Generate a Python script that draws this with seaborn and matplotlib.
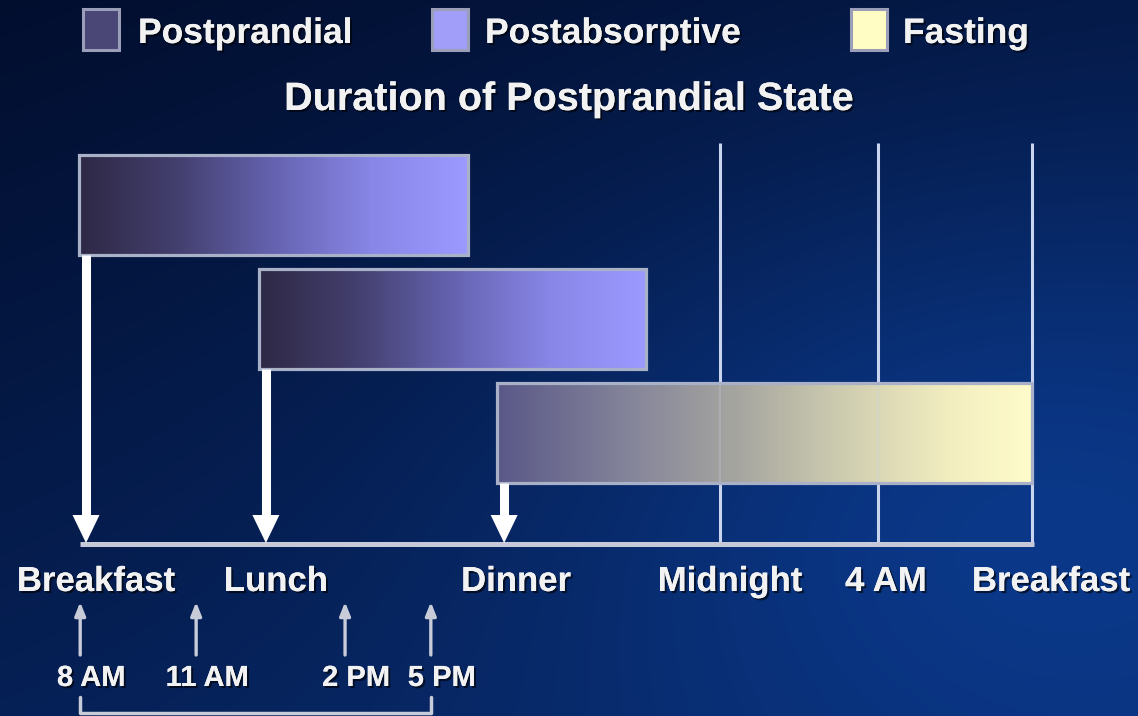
import numpy as np
import pandas as pd
import matplotlib
matplotlib.use("Agg")
import matplotlib.pyplot as plt
import seaborn as sns
from matplotlib.colors import LinearSegmentedColormap
from matplotlib.patches import Rectangle
import matplotlib.patheffects as pe

# ---------------- data (hours after the first breakfast) ----------------
meals = ["Breakfast", "Lunch", "Dinner"]
meal_start = [0.0, 4.53, 10.53]
state_end = [9.80, 14.28, 24.0]
guide_labels = ["Midnight", "4 AM", "Breakfast"]
guide_hours = [16.14, 20.12, 24.0]
clock_labels = ["8 AM", "11 AM", "2 PM", "5 PM"]
clock_hours = [0.03, 2.95, 6.70, 8.86]
legend_labels = ["Postprandial", "Postabsorptive", "Fasting"]
legend_colors = ["#4a4676", "#a09ef8", "#fffcc4"]
title = "Duration of Postprandial State"

# ---------------- layout helpers (pixel -> data) ----------------
W, H = 1138, 716
X0, SX = 79.0, 39.71
Y0, SY = 205.0, 114.0
def hx(px): return (px - X0) / SX
def ry(py): return (py - Y0) / SY
def dxp(p): return p / SX
def dyp(p): return p / SY

sns.set_theme(style="white")
plt.rcParams["font.family"] = ["Liberation Sans", "DejaVu Sans"]

fig = plt.figure(figsize=(W / 100, H / 100), dpi=100)
ax = fig.add_axes([0, 0, 1, 1])

# ---------------- background ----------------
yy, xx = np.mgrid[0:H, 0:W]
u = xx / W
v = yy / H
w = 0.22 * u + 0.38 * v + 0.40 * np.exp(-(((xx - 1000) / 480) ** 2 + ((yy - 480) / 320) ** 2))
w = np.clip(w, 0, 1)
dark = np.array([2, 14, 46]) / 255
bright = np.array([12, 62, 150]) / 255
bg = dark + (bright - dark) * w[..., None]
ax.imshow(bg, extent=[hx(0), hx(W), ry(H), ry(0)], aspect="auto", origin="upper", zorder=0)

# ---------------- bars ----------------
df = pd.DataFrame({
    "meal": meals,
    "start": meal_start,
    "duration": np.array(state_end) - np.array(meal_start),
})
bar_h = 100 / SY
sns.barplot(data=df, y="meal", x="duration", orient="h", left=df["start"].to_numpy(),
            width=bar_h, errorbar=None, color="#888888", ax=ax)

cm_post = LinearSegmentedColormap.from_list(
    "post", [(0, "#2e2945"), (0.25, "#433f6e"), (0.5, "#6563b0"), (0.75, "#8886e6"), (1.0, "#9c9aff")])
cm_fast = LinearSegmentedColormap.from_list(
    "fast", [(0, "#5a5888"), (0.25, "#85859a"), (0.45, "#a6a6a0"), (0.65, "#cfcdb0"),
             (0.85, "#f2eec0"), (1.0, "#fffccb")])
grad = np.linspace(0, 1, 256)[None, :]
bars = list(ax.patches)
for i, p in enumerate(bars):
    bx0, by0 = p.get_x(), p.get_y()
    bw, bh = p.get_width(), p.get_height()
    cmap = cm_fast if i == 2 else cm_post
    ax.imshow(grad, cmap=cmap, extent=[bx0, bx0 + bw, by0 + bh, by0], aspect="auto", zorder=2)
    p.set_facecolor("none")
    p.set_edgecolor("#a9b1c8")
    p.set_linewidth(2.3)
    p.set_zorder(3)

# ---------------- guide lines ----------------
ax.vlines(guide_hours, ry(143), ry(543), colors="#c9d5ee", lw=2.2, zorder=1)
ax.vlines(guide_hours[:2], ry(383), ry(483), colors="#c9d5ee", lw=1.5, alpha=0.25, zorder=2.5)

# ---------------- time axis ----------------
ax.hlines(ry(544), hx(80), hx(1034), colors="#c5c9d8", lw=3.6, zorder=4)

for i, s in enumerate(meal_start):
    x = s + dxp(7)
    top = i + bar_h / 2
    ax.plot([x, x], [top, ry(517)], color="white", lw=6.5, solid_capstyle="butt", zorder=4)
    ax.fill([x - dxp(13.5), x + dxp(13.5), x], [ry(515), ry(515), ry(543)],
            color="white", lw=0, zorder=4)

shadow = [pe.withSimplePatchShadow(offset=(1.5, -1.5), shadow_rgbFace="black", alpha=0.6), pe.Normal()]

tick_hours = meal_start + guide_hours
tick_names = meals + guide_labels
tick_off = [17, 17, 19, 10, 8, 19]
for h, name, off in zip(tick_hours, tick_names, tick_off):
    ax.text(h + dxp(off), ry(591), name, ha="center", va="baseline", fontsize=25,
            fontweight="bold", color="#f2f2f2", zorder=5, path_effects=shadow)

# ---------------- clock arrows ----------------
for h, name in zip(clock_hours, clock_labels):
    ax.annotate("", xy=(h, ry(602)), xytext=(h, ry(655)),
                arrowprops=dict(arrowstyle="-|>,head_length=0.4,head_width=0.16",
                                color="#c8ccd8", lw=2.4, mutation_scale=20,
                                shrinkA=0, shrinkB=0), zorder=4)
    ax.text(h + dxp(11), ry(686), name, ha="center", va="baseline", fontsize=21,
            fontweight="bold", color="#f2f2f2", zorder=5, path_effects=shadow)

c0, c1 = clock_hours[0], clock_hours[-1]
ax.plot([c0, c0, c1, c1], [ry(697), ry(713), ry(713), ry(697)], color="#c8ccd8", lw=2.5, zorder=4)

# ---------------- legend ----------------
sq_x = [83, 432, 851]
tx_x = [138, 485, 903]
for sx, tx, lab, col in zip(sq_x, tx_x, legend_labels, legend_colors):
    ax.add_patch(Rectangle((hx(sx), ry(9)), dxp(36), dyp(41), facecolor=col,
                           edgecolor="#9a9eb8", lw=2.2, zorder=5))
    ax.text(hx(tx), ry(43), lab, ha="left", va="baseline", fontsize=25.5,
            fontweight="bold", color="#f2f2f2", zorder=5, path_effects=shadow)

ax.text(hx(569), ry(110), title, ha="center", va="baseline", fontsize=28.5,
        fontweight="bold", color="#f2f2f2", zorder=5, path_effects=shadow)

ax.set_xlim(hx(0), hx(W))
ax.set_ylim(ry(H), ry(0))
ax.set_axis_off()

fig.savefig("out.png", dpi=100)
